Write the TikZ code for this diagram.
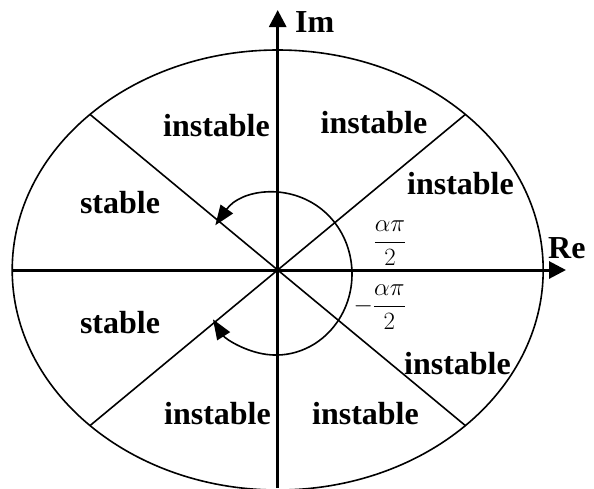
\documentclass[tikz,border=0pt]{standalone}
\usepackage{amsmath}
\usepackage{fontspec}
\setmainfont{Liberation Serif}
\usetikzlibrary{arrows.meta}
\begin{document}
\begin{tikzpicture}[x=1pt,y=-1pt,
  lbl/.style={font=\fontsize{32}{38}\selectfont\bfseries, anchor=base, inner sep=0pt},
  axislabel/.style={font=\fontsize{32}{38}\selectfont\bfseries, anchor=base west, inner sep=0pt},
  fraclbl/.style={font=\fontsize{24}{28}\selectfont, inner sep=0pt},
  axisline/.style={line width=3pt, -{Triangle[length=17pt,width=17pt]}},
  curveline/.style={line width=1.6pt},
  turnarrow/.style={line width=1.6pt, {Triangle[length=20pt,width=15pt]}-{Triangle[length=20pt,width=15pt]}}]
\useasboundingbox (0,0) rectangle (594,488);
% origin and ellipse
\coordinate (O) at (277.7,270);
\draw[curveline] (O) ellipse [x radius=265.5pt, y radius=220pt];
% diagonal end points on the ellipse
\coordinate (d1) at (465.4,114.4);
\coordinate (d2) at (90.0,114.4);
\coordinate (d3) at (90.0,425.6);
\coordinate (d4) at (465.4,425.6);
\draw[curveline] (O) -- (d1);
\draw[curveline] (O) -- (d2);
\draw[curveline] (O) -- (d3);
\draw[curveline] (O) -- (d4);
% axes
\coordinate (xs) at (12,270);
\coordinate (xe) at (566,270);
\coordinate (ys) at (277.7,488);
\coordinate (ye) at (277.7,10);
\draw[axisline] (xs) -- (xe);
\draw[axisline] (ys) -- (ye);
% turning arc
\coordinate (arcstart) at (215.3,225.3);
\draw[turnarrow] (arcstart) arc[start angle=143, end angle=-146, x radius=76pt, y radius=81pt];
% labels
\node[axislabel] (im) at (295,32) {Im};
\node[axislabel] (re) at (548,258) {Re};
\node[lbl] (n1) at (216.5,136) {instable};
\node[lbl] (n2) at (374,133) {instable};
\node[lbl] (n3) at (460.5,194) {instable};
\node[lbl] (n4) at (120,213) {stable};
\node[lbl] (n5) at (120,333) {stable};
\node[lbl] (n6) at (457.5,374) {instable};
\node[lbl] (n7) at (217.5,424) {instable};
\node[lbl] (n8) at (365.5,424) {instable};
\node[fraclbl] (f1) at (390,243) {$\dfrac{\alpha\pi}{2}$};
\node[fraclbl, anchor=east] (f2) at (406,307) {$-\dfrac{\alpha\pi}{2}$};
\end{tikzpicture}
\end{document}
